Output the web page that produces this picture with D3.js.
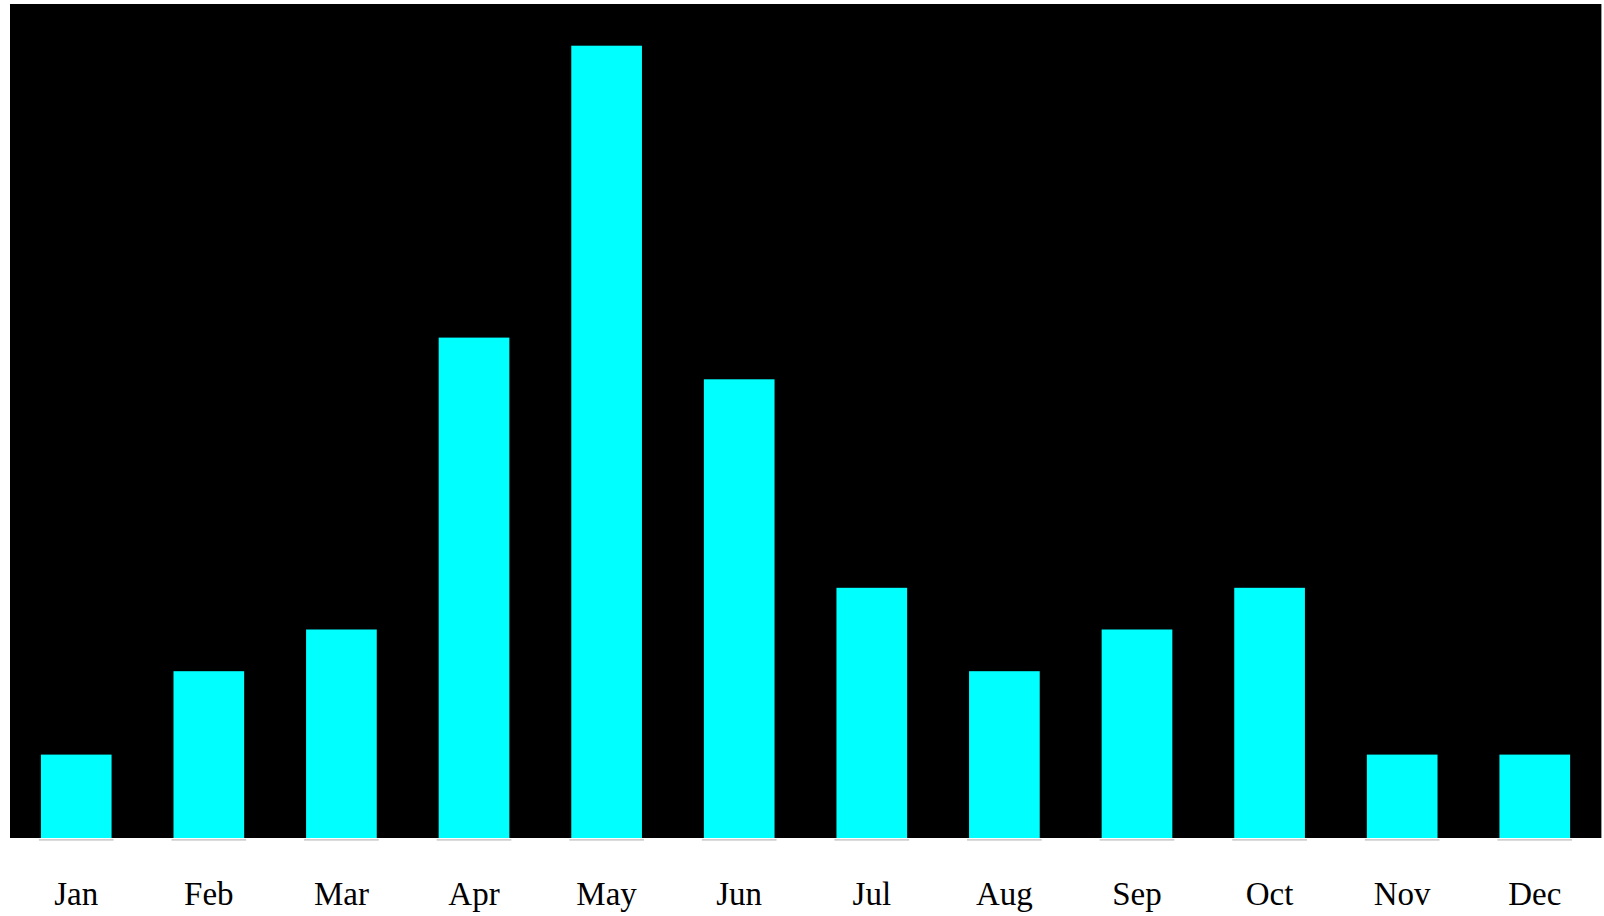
<!DOCTYPE html>
<html>
<head>
<meta charset="utf-8">
<script src="https://cdn.jsdelivr.net/npm/d3@7"></script>
<style>
  body { margin: 0; background: #fff; }
  svg { display: block; }
</style>
</head>
<body>
<div id="chart"></div>
<script>
var months = ["Jan", "Feb", "Mar", "Apr", "May", "Jun", "Jul", "Aug", "Sep", "Oct", "Nov", "Dec"];
var counts = [2, 4, 5, 12, 19, 11, 6, 4, 5, 6, 2, 2];
var yMax = 20;

var width = 1604,
  height = 916,
  margin = {top: 4, right: 3, bottom: 78, left: 10},
  innerWidth = width - margin.left - margin.right,
  innerHeight = height - margin.top - margin.bottom;

var svg = d3.select("#chart").append("svg")
  .attr("width", width)
  .attr("height", height);

var g = svg.append("g")
  .attr("transform", "translate(" + margin.left + "," + margin.top + ")");

var x = d3.scaleBand()
  .domain(months)
  .range([0, innerWidth])
  .paddingInner(0.467)
  .paddingOuter(0.233);

var y = d3.scaleLinear()
  .domain([0, yMax])
  .range([innerHeight, 0]);

// plot background
g.append("rect")
  .attr("width", innerWidth)
  .attr("height", innerHeight)
  .attr("fill", "#000");

// thin light edge at the right side
g.append("line")
  .attr("x1", innerWidth + 0.5).attr("x2", innerWidth + 0.5)
  .attr("y1", 0).attr("y2", innerHeight)
  .attr("stroke", "#999")
  .attr("stroke-width", 1);

var data = months.map(function (m, i) { return {month: m, value: counts[i]}; });

// grey underline beneath each bar
g.selectAll(".under")
  .data(data)
  .enter().append("rect")
  .attr("class", "under")
  .attr("x", function (d) { return x(d.month) - 2; })
  .attr("y", innerHeight + 1.2)
  .attr("width", x.bandwidth() + 4)
  .attr("height", 1.4)
  .attr("fill", "#c4c4c4");

g.selectAll(".bar")
  .data(data)
  .enter().append("rect")
  .attr("class", "bar")
  .attr("x", function (d) { return x(d.month); })
  .attr("y", function (d) { return y(d.value); })
  .attr("width", x.bandwidth())
  .attr("height", function (d) { return innerHeight - y(d.value); })
  .attr("fill", "#00ffff");

// month labels
var xAxis = d3.axisBottom(x).tickSize(0).tickPadding(0);
var ax = g.append("g")
  .attr("transform", "translate(0," + innerHeight + ")")
  .call(xAxis);
ax.select(".domain").remove();
ax.selectAll("text")
  .attr("dy", null)
  .attr("y", 67)
  .attr("fill", "#000")
  .attr("font-family", "'Liberation Serif', 'Times New Roman', serif")
  .attr("font-size", "33px");
</script>
</body>
</html>
